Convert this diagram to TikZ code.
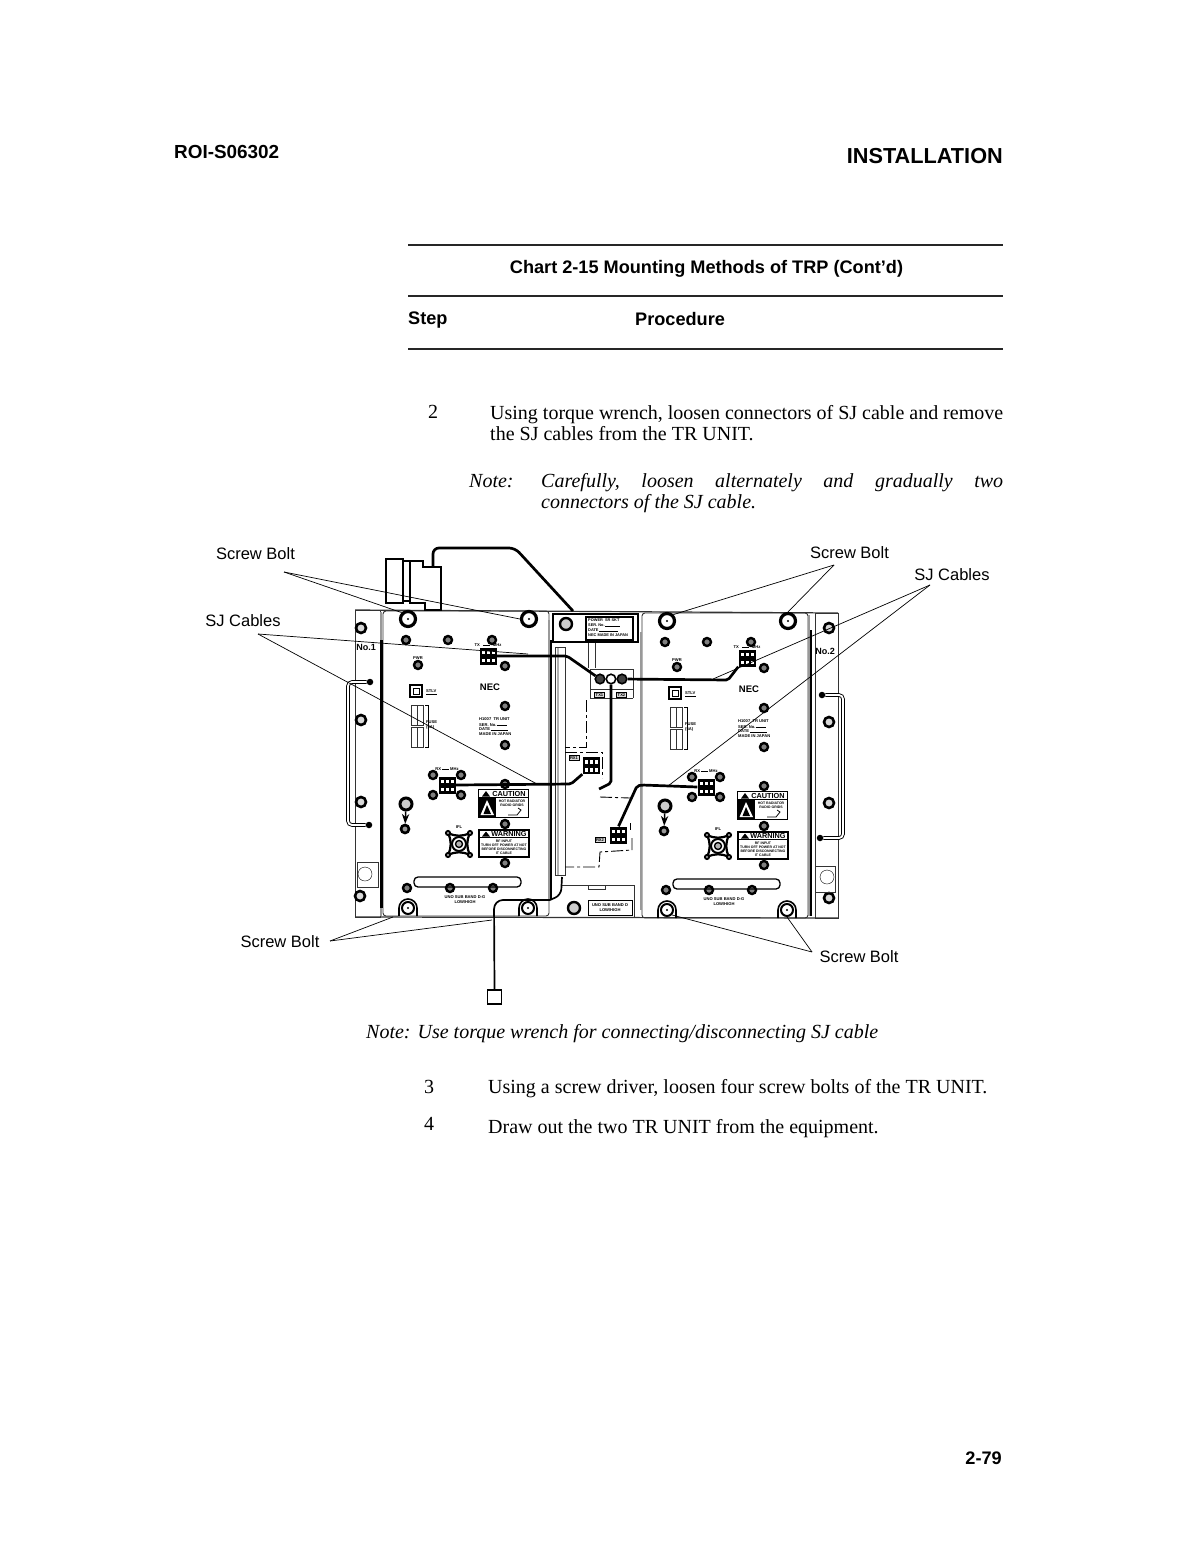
\documentclass[tikz,border=0pt]{standalone}
\usepackage{fontspec}
\setmainfont{Liberation Serif}
\setsansfont{Liberation Sans}
\usetikzlibrary{positioning, arrows.meta}

\tikzset{
  pagehead/.style = {inner sep=0pt, anchor=base west, font=\sffamily\bfseries\fontsize{18.15}{20}\selectfont},
  bodytext/.style = {inner sep=0pt, anchor=base west, font=\fontsize{20}{24}\selectfont},
  notetext/.style = {bodytext, font=\itshape\fontsize{20}{24}\selectfont},
  callout/.style = {inner sep=0pt, font=\sffamily\fontsize{16.5}{18}\selectfont},
  tinytext/.style = {inner sep=0pt, font=\sffamily\bfseries\fontsize{4.1}{5}\selectfont},
  rule/.style = {line width=1.6pt, black!85},
  leader/.style = {line width=0.7pt},
  cable/.style = {line width=2.7pt, rounded corners=2pt},
  wireline/.style = {line width=1.7pt, rounded corners=9pt},
  panel/.style = {line width=0.9pt, black!80},
  stripe/.style = {line width=3pt},
  greystripe/.style = {line width=2.2pt, black!40},
  dashline/.style = {line width=0.9pt, dash pattern=on 12pt off 3pt on 3pt off 3pt},
  bolt/.style = {circle, draw, line width=3.2pt, minimum size=15pt, inner sep=0pt,
    path picture={\fill (path picture bounding box.center) circle (1.2pt);}},
  lowbolt/.style = {bolt, line width=2pt, minimum size=12pt},
  screw/.style = {circle, draw, line width=2.4pt, fill=black!50, minimum size=8pt, inner sep=0pt},
  earscrew/.style = {screw, line width=2.6pt, fill=black!15, minimum size=10pt},
  knob/.style = {circle, fill, minimum size=6.5pt, inner sep=0pt},
  handlebar/.style = {line width=0.9pt, double, double distance=1.8pt, rounded corners=4pt},
  jack/.style = {circle, draw, line width=1.6pt, fill=black!75, minimum size=9.5pt, inner sep=0pt},
  block/.style = {rectangle, fill=black, minimum size=17pt, inner sep=0pt,
    path picture={
      \foreach \i in {-6.5,-1.5,3.5} \foreach \j in {-6,2}
        \fill[white] ([shift={(\i pt,\j pt)}]path picture bounding box.center) rectangle +(3.4pt,3.4pt);}},
  tagbox/.style = {rectangle, draw, line width=0.9pt, fill=black!15, inner sep=1pt, font=\sffamily\bfseries\fontsize{4.1}{5}\selectfont},
  signbox/.style = {rectangle, draw, line width=1.5pt, minimum width=50pt, inner sep=0pt},
  signhead/.style = {inner sep=0pt, font=\sffamily\bfseries\fontsize{7.3}{8}\selectfont},
}

\begin{document}
\begin{tikzpicture}[x=1pt, y=-1pt]
  \useasboundingbox (0,0) rectangle (1190,1560);

  % page text
  \node[pagehead, font=\sffamily\bfseries\fontsize{18.9}{20}\selectfont] (docno) at (174,158) {ROI-S06302};
  \node[pagehead, anchor=base east, font=\sffamily\bfseries\fontsize{21.7}{24}\selectfont] (section) at (1003,163) {INSTALLATION};
  \node[pagehead, anchor=base] (chart) at (706.5,273) {Chart 2-15 Mounting Methods of TRP (Cont'd)};
  \node[pagehead] (steph) at (408,324) {Step};
  \node[pagehead] (proch) at (635,325) {Procedure};
  \node[pagehead, anchor=base east] (pageno) at (1002,1464) {2-79};
  \draw[rule] (408,245) -- (1003,245);
  \draw[rule] (408,296) -- (1003,296);
  \draw[rule] (408,349) -- (1003,349);

  \node[bodytext] (s2) at (428,418) {2};
  \node[bodytext] (t2a) at (490,419) {\hbox to 513pt{Using torque wrench, loosen connectors of SJ cable and remove}};
  \node[bodytext] (t2b) at (490,440) {the SJ cables from the TR UNIT.};
  \node[notetext] (n2) at (469,487) {Note:};
  \node[notetext] (n2a) at (541,487) {\hbox to 462pt{Carefully,\hfill loosen\hfill alternately\hfill and\hfill gradually\hfill two}};
  \node[notetext] (n2b) at (541,508) {connectors of the SJ cable.};
  \node[notetext] (n3) at (366,1038) {Note:\hspace{7pt}Use torque wrench for connecting/disconnecting SJ cable};
  \node[bodytext] (s3) at (424,1093) {3};
  \node[bodytext] (t3) at (488,1093) {Using a screw driver, loosen four screw bolts of the TR UNIT.};
  \node[bodytext] (s4) at (424,1130) {4};
  \node[bodytext] (t4) at (488,1133) {Draw out the two TR UNIT from the equipment.};

  % chassis and ears
  \draw[panel, line width=1.2pt] (355,610) -- (838,613);
  \draw[panel, line width=1.2pt] (355,917) -- (838,918);
  \draw[panel] (355,610) rectangle (380,917);
  \draw[panel] (815,613) rectangle (838,918);
  \node[earscrew] (le1) at (361,628) {};
  \node[earscrew] (le2) at (361,720) {};
  \node[earscrew] (le3) at (361,802) {};
  \node[earscrew] (le4) at (360,896) {};
  \node[earscrew] (re1) at (829,628) {};
  \node[earscrew] (re2) at (829,722) {};
  \node[earscrew] (re3) at (829,803) {};
  \node[earscrew] (re4) at (829,898) {};
  \node[tinytext, font=\sffamily\bfseries\fontsize{9}{10}\selectfont] (no1) at (366,647) {No.1};
  \node[tinytext, font=\sffamily\bfseries\fontsize{9}{10}\selectfont] (no2) at (825,651) {No.2};
  \node[knob] (lk1) at (370,682) {};
  \node[knob] (lk2) at (369,825) {};
  \node[knob] (rk1) at (822,695) {};
  \node[knob] (rk2) at (820,838) {};
  \draw[handlebar] (lk1) -- (348,682) -- (348,825) -- (lk2);
  \draw[handlebar] (rk1) -- (843,695) -- (843,838) -- (rk2);
  \draw[panel] (357,862) rectangle (378,887);
  \draw[panel] (815,866) rectangle (835,892);
  \node[circle, draw, minimum size=14pt, inner sep=0pt] (lhole) at (365,874) {};
  \node[circle, draw, minimum size=14pt, inner sep=0pt] (rhole) at (827,877) {};

  % TR units
  \draw[panel, rounded corners=3pt] (383,611) rectangle (549,916);
  \draw[panel, rounded corners=3pt] (642,613) rectangle (808,918);
  \draw[greystripe] (381,612) -- (381,640);
  \draw[stripe] (381,640) -- (381,908);
  \draw[greystripe] (381,908) -- (381,916);
  \draw[greystripe] (549,620) -- (549,900);
  \draw[stripe, line width=2pt] (551,640) -- (551,900);
  \draw[greystripe] (641,632) -- (641,910);
  \draw[greystripe] (809,615) -- (809,916);
  \draw[stripe, line width=2pt] (811,630) -- (811,916);

  \foreach \u/\dx/\dy in {a/0/0, b/259/2} {
    \begin{scope}[shift={(\dx,\dy)}]
      \node[bolt] (\u bolt1) at (408,619) {};
      \node[bolt] (\u bolt2) at (529,619) {};
      \node[lowbolt] (\u bolt3) at (408,908) {};
      \node[lowbolt] (\u bolt4) at (528,908) {};
      \draw[line width=1.6pt] (399,916) -- (399,908) arc (180:360:9) -- (417,916);
      \draw[line width=1.6pt] (519,916) -- (519,908) arc (180:360:9) -- (537,916);
      \foreach \n/\x/\y in {1/406/640, 2/448/640, 3/492/640, 4/418/665, 5/505/666, 6/505/706, 7/505/745,
          8/433/775, 9/461/775, 10/433/795, 11/461/795, 12/505/784, 13/505/824, 14/505/863,
          15/407/888, 16/450/888, 17/493/888}
        \node[screw] (\u s\n) at (\x,\y) {};
      \node[block] (\u tx) at (488,656) {};
      \node[block] (\u rx) at (447,785) {};
      \node[tinytext] (\u txl) at (488,645.5) {TX\hspace{3pt}\rule[1pt]{7pt}{0.5pt}\hspace{3pt}MHz};
      \node[tinytext] (\u rxl) at (447,769) {RX\hspace{1pt}\rule[1pt]{7pt}{0.5pt}\hspace{1pt}MHz};
      \node[tinytext] (\u pwr) at (418,658) {PWR};
      \draw[line width=1.2pt] (410,685) rectangle (422,697);
      \draw[line width=0.8pt] (413,688) rectangle (419,694);
      \node[tinytext, anchor=west] (\u stl) at (426,691) {STLV};
      \draw[line width=0.9pt] (426,694.5) -- (437,694.5);
      \draw[panel] (411,705) rectangle (423,725);
      \draw[panel] (411,727) rectangle (423,747);
      \draw[panel] (417,705) -- (417,725) (417,727) -- (417,747);
      \draw[line width=0.6pt] (425,705) -- (428,705) -- (428,747) -- (425,747);
      \node[tinytext, anchor=west, align=left] (\u fuse) at (426,725) {FUSE\\(5A)};
      \node[inner sep=0pt, font=\sffamily\bfseries\fontsize{9.5}{10}\selectfont] (\u nec) at (490,687) {NEC};
      \node[tinytext, anchor=west] (\u h) at (479,719) {H1007 \ TR UNIT};
      \node[tinytext, anchor=west] (\u ser) at (479,725) {SER. No.\,\rule[0.5pt]{10pt}{0.9pt}};
      \node[tinytext, anchor=west] (\u date) at (479,729.5) {DATE\,\rule[0.5pt]{17pt}{0.6pt}};
      \node[tinytext, anchor=west] (\u made) at (479,734) {MADE IN JAPAN};

      % signs
      \node[signbox, minimum height=28pt] (\u caution) at (503.5,803.5) {};
      \draw[line width=1pt] (478.5,797) -- (528.5,797);
      \fill (486,791) -- (482,796.5) -- (490,796.5) -- cycle;
      \node[signhead] (\u cap) at (509,793.5) {CAUTION};
      \fill (479,797) rectangle (496,817);
      \fill[white] (487,800) -- (480.5,815) -- (494,815) -- cycle;
      \fill (487,805) -- (483.5,814) -- (491,814) -- cycle;
      \node[tinytext, align=center, font=\sffamily\bfseries\fontsize{3.5}{4.3}\selectfont] (\u capt) at (512,803) {HOT RADIATOR\\RADIO GRIDS};
      \draw[line width=0.8pt] (508,815) -- (517,815) -- (521,810) -- (518,808);
      \node[signbox, minimum height=27pt] (\u warn) at (504,843.5) {};
      \draw[line width=1pt] (479,837) -- (529,837);
      \fill (486,831.5) -- (482,836.5) -- (490,836.5) -- cycle;
      \node[signhead] (\u wart) at (509,834) {WARNING};
      \node[tinytext, align=center, font=\sffamily\bfseries\fontsize{3.5}{4.1}\selectfont] (\u wart2) at (504,847) {RF INPUT\\TURN OFF POWER AT NOT\\BEFORE DISCONNECTING\\IT CABLE};

      % ifl connector
      \draw[line width=2.2pt, fill=white] (448,833) to[bend right=25] (470,833) to[bend right=25] (470,855) to[bend right=25] (448,855) to[bend right=25] cycle;
      \node[circle, draw, line width=2pt, minimum size=14pt, inner sep=0pt] (\u iflr) at (459,844) {};
      \node[circle, draw, line width=1.4pt, fill=black!30, minimum size=7pt, inner sep=0pt] (\u iflc) at (459,844) {};
      \foreach \n/\a/\b in {1/448/833, 2/470/833, 3/448/855, 4/470/855}
        \node[screw, fill=white, minimum size=4pt, line width=2pt] (\u iflp\n) at (\a,\b) {};
      \node[tinytext] (\u ifll) at (459,827) {IFL};

      % slot and pair
      \draw[line width=1.3pt, rounded corners=4pt] (414,877) rectangle (521,887);
      \node[bolt, line width=3pt, minimum size=12pt, fill=black!20] (\u pa) at (406,804) {};
      \node[earscrew, minimum size=8pt, fill=black!40] (\u pb) at (405,829) {};
      \draw[-{Stealth}, line width=1.5pt] (\u pa) -- (\u pb);
      \node[tinytext, align=center] (\u band) at (465,900) {UNO SUB BAND D-G\\LOW/HIGH};
    \end{scope}
  }

  % centre panel
  \draw[line width=1.8pt] (553,614) rectangle (638,642);
  \node[screw, minimum size=12pt, fill=black!20] (topscrew) at (566,624) {};
  \draw[line width=1.1pt] (586,617) rectangle (633,640);
  \node[tinytext, anchor=west, align=left, font=\sffamily\bfseries\fontsize{3.9}{5}\selectfont] (srtext) at (588,628) {POWER \ SR SKT\\SER. No.\,\rule[0.5pt]{15pt}{0.7pt}\\DATE\,\rule[0.5pt]{19pt}{0.7pt}\\NEC MADE IN JAPAN};
  \draw[panel] (555,647) -- (555,875);
  \draw[line width=2pt, black!30] (558,647) -- (558,875);
  \draw[panel] (565,647) -- (555,647);
  \draw[panel] (565,647) -- (565,875) -- (555,875);
  \draw[panel] (588,643) -- (588,668) (595,643) -- (595,668);
  \draw[panel] (590,669) -- (633,669) -- (633,698) (590,698) -- (590,669) (590,689) -- (633,689);
  \draw[panel] (590,698) -- (633,698);
  \node[tagbox] (tx1) at (599.5,695) {TX1};
  \node[tagbox] (tx2) at (621.5,695) {TX2};
  \draw[dashline] (586,700) -- (586,747) -- (565,747);
  \draw[dashline] (565,752) -- (602,752) -- (602,778);
  \draw[dashline] (600,797) -- (630,798);
  \draw[dashline] (630,823) -- (630,830);
  \draw[dashline] (632,838) -- (632,850) -- (600,852) -- (599,867) -- (565,867);
  \draw[panel] (562,885) -- (634,885) -- (634,917);
  \draw[panel] (588,885) -- (588,889) -- (605,889) -- (605,885);
  \node[screw, minimum size=12pt, fill=black!20] (botscrew) at (574,908) {};
  \node[tagbox, fill=white, minimum width=44pt, minimum height=15pt, align=center] (lowhigh) at (610,907.5) {UNO SUB BAND D\\LOW/HIGH};

  \node[jack] (j1) at (600,679) {};
  \node[jack, fill=white] (j2) at (611,679) {};
  \node[jack] (j3) at (622,679) {};
  \node[block] (rx1) at (591,765.5) {};
  \node[block] (rx2) at (618.5,835) {};
  \node[tagbox] (rx1l) at (574,758) {RX1};
  \node[tagbox] (rx2l) at (600,840) {RX2};

  % plug and cables
  \draw[line width=1.3pt] (386,559) rectangle (403,603);
  \draw[line width=1.3pt, fill=white] (410,603) -- (410,561) -- (423,561) -- (423,567) -- (441,567) -- (441,610) -- (425,610) -- (425,603) -- cycle;
  \draw[line width=1.3pt] (403,561) -- (410,561) (403,601) -- (410,601);
  \coordinate (plug) at (433,566);
  \coordinate (boxtop) at (573,611);
  \draw[cable, rounded corners=6pt] (plug) -- (433,548) -- (515,548) -- (boxtop);
  \draw[cable] (atx.east) -- (567,656) -- (j1);
  \draw[cable] (j3) -- (728,680) -- (btx.south west);
  \draw[cable] (arx.east) -- (571,784) -- (rx1.south west);
  \draw[cable] (j2) -- (611,783) -- (599,789);
  \draw[cable] (rx2.north) -- (637,786) -- (642,785) -- (brx.west);
  \node[draw, line width=1.5pt, minimum size=14pt, inner sep=0pt] (testbox) at (494.5,997) {};
  \draw[wireline] (testbox.north) -- (494,900) -- (550,900);
  \draw[wireline, rounded corners=6pt] (550,900) -- (561,895) -- (562,877);

  % callouts
  \node[callout] (boltTL) at (255.5,554) {Screw Bolt};
  \node[callout] (cableTL) at (243,620.5) {SJ Cables};
  \node[callout] (boltTR) at (849.5,553) {Screw Bolt};
  \node[callout] (cableTR) at (952,575) {SJ Cables};
  \node[callout] (boltBL) at (280,942) {Screw Bolt};
  \node[callout] (boltBR) at (859,957) {Screw Bolt};
  \coordinate (tipTL) at (284,572);
  \coordinate (tipSL) at (258,634);
  \coordinate (tipTR) at (834,565);
  \coordinate (tipSR) at (930,585);
  \coordinate (tipBL) at (330,941);
  \coordinate (tipBR) at (812,952);
  \coordinate (endSL1) at (528,654);
  \coordinate (endSL2) at (537,784);
  \coordinate (endSR1) at (713,679);
  \coordinate (endSR2) at (668,786);
  \coordinate (endBL1) at (393,917);
  \coordinate (endBL2) at (492,920);
  \draw[leader] (tipTL) -- (abolt1.north west);
  \draw[leader] (tipTL) -- (abolt2.west);
  \draw[leader] (tipSL) -- (endSL1);
  \draw[leader] (tipSL) -- (endSL2);
  \draw[leader] (tipTR) -- (bbolt1.north east);
  \draw[leader] (tipTR) -- (bbolt2.north);
  \draw[leader] (tipSR) -- (endSR1);
  \draw[leader] (tipSR) -- (endSR2);
  \draw[leader] (tipBL) -- (endBL1);
  \draw[leader] (tipBL) -- (endBL2);
  \draw[leader] (tipBR) -- (bbolt3.south east);
  \draw[leader] (tipBR) -- (bbolt4.south);
\end{tikzpicture}
\end{document}
